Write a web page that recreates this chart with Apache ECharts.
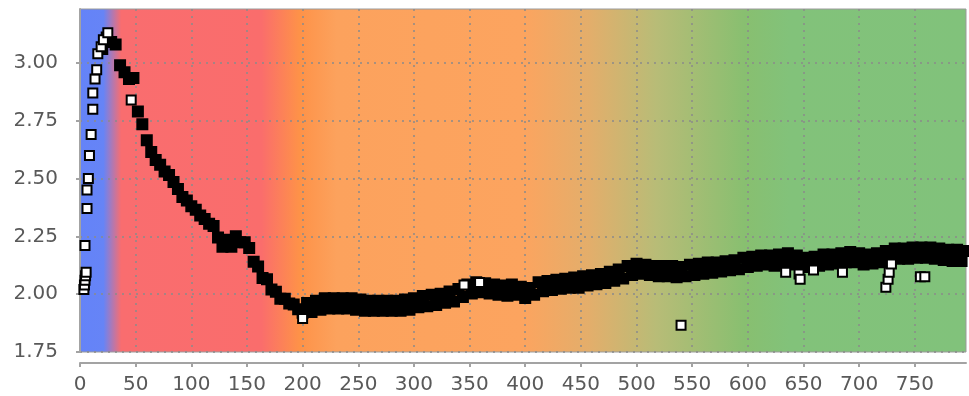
<!DOCTYPE html>
<html>
<head>
<meta charset="utf-8">
<script src="https://cdn.jsdelivr.net/npm/echarts@6/dist/echarts.min.js"></script>
<style>
  html, body { margin: 0; padding: 0; background: #fff; }
  #main { width: 969px; height: 396px; }
</style>
</head>
<body>
<div id="main"></div>
<script>
// tick labels
var xTicks = [0, 50, 100, 150, 200, 250, 300, 350, 400, 450, 500, 550, 600, 650, 700, 750];
var yTicks = [1.75, 2.00, 2.25, 2.50, 2.75, 3.00];

// dense band of points, one every 4 units starting at x = 20
var bandStart = 20;
var bandStep = 4;
var bandY = [
  // peak 20-48
  3.06, 3.11, 3.09, 3.08, 2.99, 2.96, 2.93, 2.935,
  // descent 52-196
  2.79, 2.735, 2.665, 2.615, 2.58, 2.56, 2.53, 2.515, 2.485, 2.455,
  2.42, 2.405, 2.38, 2.365, 2.34, 2.325, 2.305, 2.295,
  2.245, 2.205, 2.235, 2.205, 2.25, 2.225, 2.225,
  2.20, 2.14, 2.12, 2.07, 2.065, 2.02, 2.01, 1.98, 1.98, 1.96, 1.955, 1.935,
  // slow rise 200-796
  1.92, 1.962, 1.923, 1.972, 1.933, 1.982, 1.938, 1.982, 1.938, 1.982,
  1.938, 1.982, 1.933, 1.977, 1.928, 1.972, 1.928, 1.972, 1.928, 1.972,
  1.928, 1.972, 1.928, 1.977, 1.933, 1.982, 1.943, 1.992, 1.948, 1.997,
  1.953, 2.002, 1.963, 2.012, 1.968, 2.022, 1.988, 2.042, 2.003, 2.052,
  2.008, 2.047, 2.003, 2.042, 1.998, 2.037, 1.993, 2.042, 1.998, 2.032,
  1.983, 2.027, 1.998, 2.052, 2.013, 2.057, 2.018, 2.062, 2.023, 2.067,
  2.028, 2.072, 2.028, 2.077, 2.038, 2.082, 2.043, 2.087, 2.048, 2.097,
  2.058, 2.107, 2.068, 2.122, 2.083, 2.132, 2.088, 2.127, 2.083, 2.122,
  2.078, 2.122, 2.078, 2.122, 2.073, 2.117, 2.078, 2.127, 2.083, 2.132,
  2.088, 2.137, 2.093, 2.137, 2.098, 2.142, 2.103, 2.147, 2.108, 2.157,
  2.118, 2.162, 2.123, 2.167, 2.128, 2.167, 2.123, 2.172, 2.133, 2.177,
  2.128, 2.167, 2.118, 2.157, 2.118, 2.162, 2.123, 2.172, 2.128, 2.172,
  2.133, 2.177, 2.138, 2.182, 2.138, 2.177, 2.128, 2.172, 2.133, 2.177,
  2.138, 2.187, 2.148, 2.197, 2.153, 2.197, 2.153, 2.202, 2.158, 2.202,
  2.158, 2.202, 2.153, 2.197, 2.148, 2.192, 2.143, 2.192, 2.143, 2.187
];

// isolated points (start of the run and outliers)
var sparseX = [3.5, 4, 4.5, 5, 5.5, 4.5, 6.3, 6.3, 7.5, 8.5, 10, 11.5, 11.5, 13.5, 15, 16, 19, 21, 25,
  46, 200, 345, 359, 540, 634, 646, 647, 659, 685, 724, 726, 727, 729, 755, 759];
var sparseY = [2.02, 2.04, 2.06, 2.08, 2.095, 2.21, 2.37, 2.45, 2.50, 2.60, 2.69, 2.80, 2.87, 2.93, 2.97, 3.04, 3.07, 3.10, 3.13,
  2.84, 1.895, 2.04, 2.05, 1.866, 2.095, 2.087, 2.065, 2.104, 2.095, 2.03, 2.065, 2.095, 2.13, 2.075, 2.075];

var bandData = bandY.map(function (y, i) { return [bandStart + i * bandStep, y]; });
var sparseData = sparseX.map(function (x, i) { return [x, sparseY[i]]; });

var axisGrey = '#a3a3a3';
var labelStyle = { color: '#595959', fontFamily: 'DejaVu Sans', fontSize: 20 };
var dotted = { show: true, lineStyle: { color: '#8a8a8a', width: 1.5, type: [2, 5] } };

var chart = echarts.init(document.getElementById('main'), null, { renderer: 'canvas' });
chart.setOption({
  animation: false,
  grid: {
    left: 80, right: 3, top: 9, bottom: 44,
    show: true,
    borderColor: '#9a9a9a',
    borderWidth: 1,
    backgroundColor: {
      type: 'linear', x: 0, y: 0, x2: 1, y2: 0,
      colorStops: [
        { offset: 0, color: '#6483f8' },
        { offset: 0.027, color: '#6684f6' },
        { offset: 0.047, color: '#f96d6f' },
        { offset: 0.205, color: '#fa6d6c' },
        { offset: 0.248, color: '#fe9248' },
        { offset: 0.29, color: '#fca25d' },
        { offset: 0.5, color: '#fca45f' },
        { offset: 0.575, color: '#e3ae6b' },
        { offset: 0.65, color: '#b8bc77' },
        { offset: 0.75, color: '#88bf70' },
        { offset: 0.8, color: '#82c27a' },
        { offset: 1, color: '#81c27b' }
      ]
    }
  },
  xAxis: {
    type: 'value',
    min: 0, max: 796,
    offset: 11,
    axisLine: { show: true, lineStyle: { color: axisGrey, width: 2 } },
    axisTick: { show: true, length: 4, lineStyle: { color: axisGrey, width: 2 }, customValues: xTicks },
    axisLabel: Object.assign({ margin: 12, customValues: xTicks }, labelStyle),
    splitLine: dotted
  },
  yAxis: {
    type: 'value',
    min: 1.75, max: 3.233,
    offset: 9,
    axisLine: { show: true, lineStyle: { color: axisGrey, width: 2 } },
    axisTick: { show: true, length: 4, lineStyle: { color: axisGrey, width: 2 }, customValues: yTicks },
    axisLabel: Object.assign({
      margin: 13,
      customValues: yTicks,
      formatter: function (v) { return v.toFixed(2); }
    }, labelStyle),
    splitLine: dotted
  },
  series: [
    {
      type: 'scatter',
      data: bandData,
      symbol: 'rect',
      symbolSize: 10,
      itemStyle: { color: '#000', borderColor: '#000', borderWidth: 2, opacity: 1 },
      z: 4
    },
    {
      type: 'scatter',
      data: sparseData,
      symbol: 'rect',
      symbolSize: 9,
      itemStyle: { color: '#fff', borderColor: '#000', borderWidth: 2, opacity: 1 },
      z: 5
    }
  ]
});
</script>
</body>
</html>
